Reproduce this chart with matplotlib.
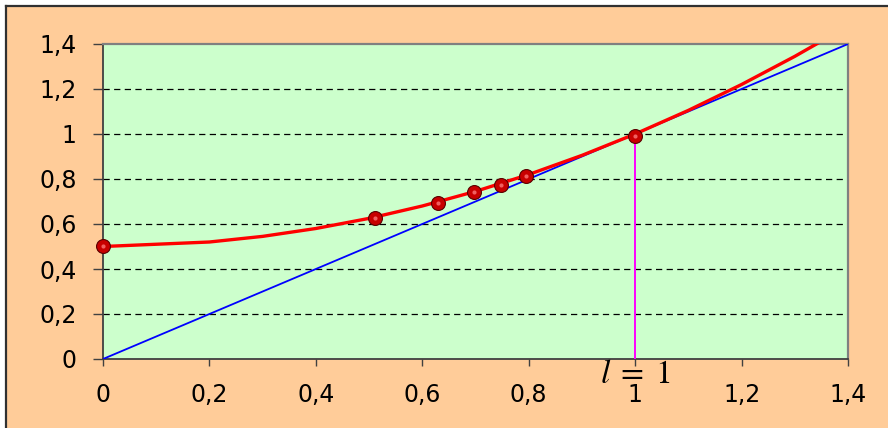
import matplotlib
matplotlib.use("Agg")
import matplotlib.pyplot as plt
from matplotlib.patches import Rectangle
from matplotlib.lines import Line2D

# curve y = (1 + x^2) / 2
curve_x = [0, 0.2, 0.3, 0.4, 0.5, 0.6, 0.7, 0.8, 0.9, 1.0, 1.1, 1.2, 1.3, 1.4]
curve_y = [0.5, 0.52, 0.545, 0.58, 0.625, 0.68, 0.745, 0.82, 0.905, 1.0, 1.105, 1.22, 1.345, 1.48]

# iteration points
pts_x = [0, 0.512, 0.63, 0.697, 0.748, 0.795, 1.0]
pts_y = [0.5, 0.625, 0.695, 0.74, 0.775, 0.813, 0.99]

diag_x = [0, 1.4]
diag_y = [0, 1.4]

ticks = [0, 0.2, 0.4, 0.6, 0.8, 1, 1.2, 1.4]
tick_labels = ["0", "0,2", "0,4", "0,6", "0,8", "1", "1,2", "1,4"]

plt.rcParams["font.family"] = ["DejaVu Sans"]
plt.rcParams["mathtext.fontset"] = "stix"

fig = plt.figure(figsize=(8.88, 4.28), dpi=100)
fig.patch.set_facecolor("white")

# outer peach frame with dark left/top edge
fig.patches.append(Rectangle((6 / 888, 0), 1, 1 - 6 / 428, transform=fig.transFigure,
                             facecolor="#FFCC99", edgecolor="none", zorder=-5))
fig.add_artist(Line2D([6 / 888, 6 / 888], [0, 1 - 6 / 428], transform=fig.transFigure,
                      color="#303030", lw=1.6, zorder=-4))
fig.add_artist(Line2D([6 / 888, 1], [1 - 6 / 428, 1 - 6 / 428], transform=fig.transFigure,
                      color="#303030", lw=1.6, zorder=-4))

ax = fig.add_axes([103 / 888, 69 / 428, 745 / 888, 315 / 428])
ax.set_facecolor("#CCFFCC")
ax.set_xlim(0, 1.4)
ax.set_ylim(0, 1.4)

for y in ticks[1:-1]:
    ax.axhline(y, color="black", lw=0.9, dashes=(5, 3.5), zorder=1)

ax.plot(diag_x, diag_y, color="#0000FF", lw=1.3, zorder=3)
ax.plot([1, 1], [0, 1], color="#FF00FF", lw=1.4, zorder=3)
ax.plot(curve_x, curve_y, color="#FF0000", lw=2.4, zorder=4)
ax.plot(pts_x, pts_y, linestyle="none", marker="o", ms=10, markerfacecolor="#C80000",
        markeredgecolor="#5A0000", markeredgewidth=0.8, zorder=5, clip_on=False)
ax.plot(pts_x, pts_y, linestyle="none", marker="o", ms=3, markerfacecolor="#F06060",
        markeredgecolor="none", zorder=6, clip_on=False)

ax.set_xticks(ticks)
ax.set_xticklabels(tick_labels)
ax.set_yticks(ticks)
ax.set_yticklabels(tick_labels)
ax.tick_params(axis="x", direction="out", length=5, width=1, color="#404040",
               pad=12, labelsize=17)
ax.tick_params(axis="y", direction="out", length=7, width=1, color="#404040",
               pad=12, labelsize=17)

for side in ["left", "bottom"]:
    ax.spines[side].set_color("#404040")
    ax.spines[side].set_linewidth(1.3)
for side in ["top", "right"]:
    ax.spines[side].set_color("#808080")
    ax.spines[side].set_linewidth(1.6)

ax.text(1.0, -0.107, r"$l\;=\;1$", ha="center", va="baseline", fontsize=24,
        clip_on=False, zorder=7)

fig.savefig("out.png", dpi=100, facecolor=fig.get_facecolor())
